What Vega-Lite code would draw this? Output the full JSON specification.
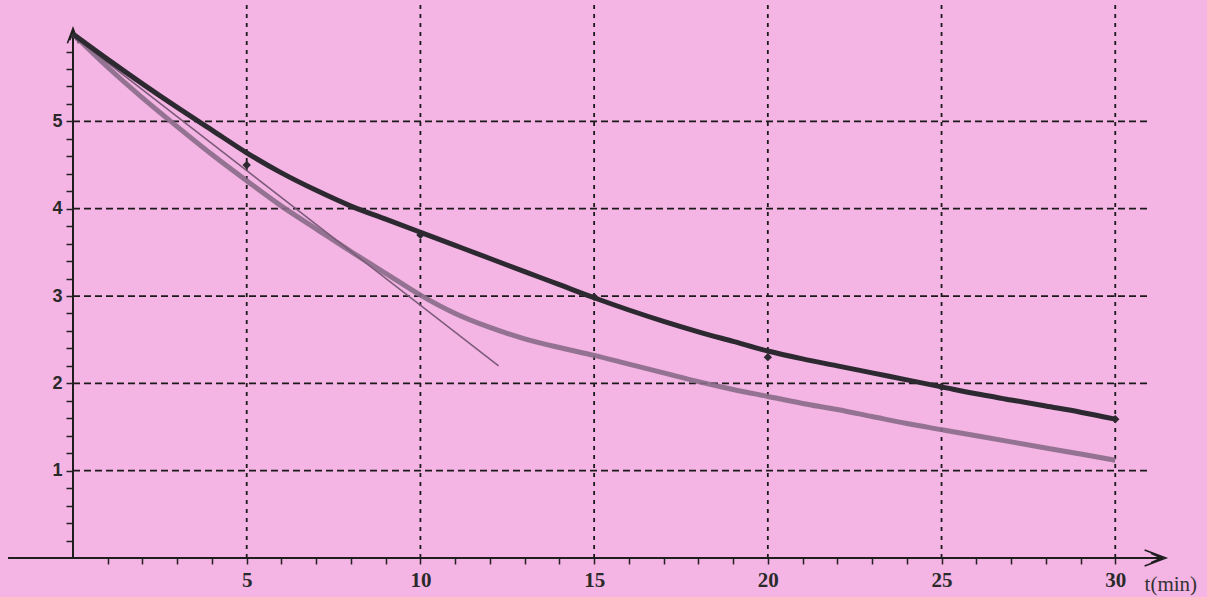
{
  "$schema": "https://vega.github.io/schema/vega-lite/v6.json",
  "width": 1077,
  "height": 558,
  "autosize": {"type": "none"},
  "padding": {"left": 73, "top": 0, "right": 57, "bottom": 39},
  "background": "#f4b4e4",
  "config": {
    "view": {"stroke": null},
    "axis": {"labelOverlap": false, "labelFlush": false, "labelBound": false, "domain": false, "grid": false, "tickColor": "#222222", "tickWidth": 1.5, "labelColor": "#2a2a2a"}
  },
  "datasets": {
    "hgrid": [{"v": 1}, {"v": 2}, {"v": 3}, {"v": 4}, {"v": 5}],
    "vgrid": [{"t": 5}, {"t": 10}, {"t": 15}, {"t": 20}, {"t": 25}, {"t": 30}],
    "dark": [
      {"t": 0, "v": 6.0}, {"t": 1, "v": 5.71}, {"t": 2, "v": 5.43}, {"t": 3, "v": 5.16}, {"t": 4, "v": 4.9},
      {"t": 5, "v": 4.64}, {"t": 6, "v": 4.41}, {"t": 7, "v": 4.21}, {"t": 8, "v": 4.03}, {"t": 9, "v": 3.88},
      {"t": 10, "v": 3.73}, {"t": 11, "v": 3.58}, {"t": 12, "v": 3.43}, {"t": 13, "v": 3.28}, {"t": 14, "v": 3.13},
      {"t": 15, "v": 2.98}, {"t": 16, "v": 2.84}, {"t": 17, "v": 2.71}, {"t": 18, "v": 2.59}, {"t": 19, "v": 2.48},
      {"t": 20, "v": 2.37}, {"t": 21, "v": 2.28}, {"t": 22, "v": 2.2}, {"t": 23, "v": 2.12}, {"t": 24, "v": 2.04},
      {"t": 25, "v": 1.96}, {"t": 26, "v": 1.88}, {"t": 27, "v": 1.81}, {"t": 28, "v": 1.74}, {"t": 29, "v": 1.67},
      {"t": 30, "v": 1.59}
    ],
    "light": [
      {"t": 0, "v": 6.0}, {"t": 1, "v": 5.62}, {"t": 2, "v": 5.27}, {"t": 3, "v": 4.94}, {"t": 4, "v": 4.62},
      {"t": 5, "v": 4.32}, {"t": 6, "v": 4.03}, {"t": 7, "v": 3.77}, {"t": 8, "v": 3.51}, {"t": 9, "v": 3.26},
      {"t": 10, "v": 3.01}, {"t": 11, "v": 2.8}, {"t": 12, "v": 2.64}, {"t": 13, "v": 2.51}, {"t": 14, "v": 2.41},
      {"t": 15, "v": 2.32}, {"t": 16, "v": 2.22}, {"t": 17, "v": 2.12}, {"t": 18, "v": 2.02}, {"t": 19, "v": 1.93},
      {"t": 20, "v": 1.85}, {"t": 21, "v": 1.77}, {"t": 22, "v": 1.7}, {"t": 23, "v": 1.62}, {"t": 24, "v": 1.54},
      {"t": 25, "v": 1.47}, {"t": 26, "v": 1.4}, {"t": 27, "v": 1.33}, {"t": 28, "v": 1.26}, {"t": 29, "v": 1.19},
      {"t": 30, "v": 1.12}
    ],
    "tangent": [{"t": 0, "v": 5.98}, {"t": 12.25, "v": 2.2}],
    "markers": [
      {"t": 5, "v": 4.5}, {"t": 10, "v": 3.7}, {"t": 15, "v": 2.99}, {"t": 20, "v": 2.3}, {"t": 25, "v": 1.96}, {"t": 30, "v": 1.59}
    ],
    "xaxisline": [{"a": -1.87, "b": 31.3}],
    "yaxisline": [{"a": 0, "b": 6.05}],
    "xarrow": [{"t": 31.15, "v": 0}],
    "yarrow": [{"t": 0, "v": 5.98}],
    "labels": [{"t": 31.6, "v": -0.31, "text": "t(min)"}]
  },
  "layer": [
    {
      "data": {"name": "hgrid"},
      "mark": {"type": "rule", "color": "#1a1a1a", "strokeWidth": 1.8, "strokeDash": [7, 4]},
      "encoding": {
        "y": {"field": "v", "type": "quantitative", "title": null, "scale": {"domain": [0, 6.39], "nice": false, "zero": false},
          "axis": {
            "values": [0.2, 0.4, 0.6, 0.8, 1, 1.2, 1.4, 1.6, 1.8, 2, 2.2, 2.4, 2.6, 2.8, 3, 3.2, 3.4, 3.6, 3.8, 4, 4.2, 4.4, 4.6, 4.8, 5, 5.2, 5.4, 5.6, 5.8],
            "tickCount": 200,
            "labelExpr": "abs(datum.value - round(datum.value)) < 0.01 ? format(datum.value, 'd') : ''",
            "domain": false, "grid": false, "title": null,
            "tickSize": 7, "tickWidth": 1.5, "tickColor": "#222222",
            "labelFont": "Liberation Sans", "labelFontWeight": "bold", "labelFontSize": 18, "labelColor": "#2a2a2a",
            "labelPadding": 4, "labelOverlap": false, "labelFlush": false
          }},
        "x": {"datum": 0, "type": "quantitative", "title": null, "scale": {"domain": [0, 31], "nice": false, "zero": false},
          "axis": {
            "values": [1, 2, 3, 4, 5, 6, 7, 8, 9, 10, 11, 12, 13, 14, 15, 16, 17, 18, 19, 20, 21, 22, 23, 24, 25, 26, 27, 28, 29, 30],
            "tickCount": 200,
            "labelExpr": "datum.value % 5 === 0 ? format(datum.value, 'd') : ''",
            "domain": false, "grid": false, "title": null,
            "tickSize": 6, "tickWidth": 1.5, "tickColor": "#222222",
            "labelFont": "Liberation Serif", "labelFontWeight": "bold", "labelFontSize": 21, "labelColor": "#2a2a2a",
            "labelPadding": 5, "labelOverlap": false, "labelFlush": false
          }},
        "x2": {"datum": 31}
      }
    },
    {
      "data": {"name": "vgrid"},
      "mark": {"type": "rule", "color": "#1a1a1a", "strokeWidth": 1.8, "strokeDash": [4, 5]},
      "encoding": {
        "x": {"field": "t", "type": "quantitative", "title": null, "scale": {"domain": [0, 31], "nice": false, "zero": false}},
        "y": {"datum": 0, "type": "quantitative", "title": null, "scale": {"domain": [0, 6.39], "nice": false, "zero": false}},
        "y2": {"datum": 6.39}
      }
    },
    {
      "data": {"name": "xaxisline"},
      "mark": {"type": "rule", "color": "#1e1e1e", "strokeWidth": 2},
      "encoding": {
        "x": {"field": "a", "type": "quantitative", "title": null, "scale": {"domain": [0, 31], "nice": false, "zero": false}},
        "x2": {"field": "b"},
        "y": {"datum": 0, "type": "quantitative", "title": null, "scale": {"domain": [0, 6.39], "nice": false, "zero": false}}
      }
    },
    {
      "data": {"name": "yaxisline"},
      "mark": {"type": "rule", "color": "#1e1e1e", "strokeWidth": 2},
      "encoding": {
        "y": {"field": "a", "type": "quantitative", "title": null, "scale": {"domain": [0, 6.39], "nice": false, "zero": false}},
        "y2": {"field": "b"},
        "x": {"datum": 0, "type": "quantitative", "title": null, "scale": {"domain": [0, 31], "nice": false, "zero": false}}
      }
    },
    {
      "data": {"name": "xarrow"},
      "mark": {"type": "point", "shape": "M -1 -0.75 L 1 0 L -1 0.75 M -0.4 -0.45 L 0.6 0 L -0.4 0.45", "filled": false, "color": "#1e1e1e", "strokeWidth": 1.6, "size": 450, "opacity": 1},
      "encoding": {
        "x": {"field": "t", "type": "quantitative", "title": null, "scale": {"domain": [0, 31], "nice": false, "zero": false}},
        "y": {"field": "v", "type": "quantitative", "title": null, "scale": {"domain": [0, 6.39], "nice": false, "zero": false}}
      }
    },
    {
      "data": {"name": "yarrow"},
      "mark": {"type": "point", "shape": "M -0.75 1 L 0 -1 L 0.75 1 M -0.45 0.6 L 0 -0.4 L 0.45 0.6", "filled": false, "color": "#1e1e1e", "strokeWidth": 1.6, "size": 220, "opacity": 1},
      "encoding": {
        "x": {"field": "t", "type": "quantitative", "title": null, "scale": {"domain": [0, 31], "nice": false, "zero": false}},
        "y": {"field": "v", "type": "quantitative", "title": null, "scale": {"domain": [0, 6.39], "nice": false, "zero": false}}
      }
    },
    {
      "data": {"name": "light"},
      "mark": {"type": "line", "color": "#8a6c88", "strokeWidth": 5, "interpolate": "catmull-rom", "opacity": 0.9},
      "encoding": {
        "x": {"field": "t", "type": "quantitative", "title": null, "scale": {"domain": [0, 31], "nice": false, "zero": false}},
        "y": {"field": "v", "type": "quantitative", "title": null, "scale": {"domain": [0, 6.39], "nice": false, "zero": false}}
      }
    },
    {
      "data": {"name": "tangent"},
      "mark": {"type": "line", "color": "#7a5a78", "strokeWidth": 1.5},
      "encoding": {
        "x": {"field": "t", "type": "quantitative", "title": null, "scale": {"domain": [0, 31], "nice": false, "zero": false}},
        "y": {"field": "v", "type": "quantitative", "title": null, "scale": {"domain": [0, 6.39], "nice": false, "zero": false}}
      }
    },
    {
      "data": {"name": "dark"},
      "mark": {"type": "line", "color": "#2d2931", "strokeWidth": 5, "interpolate": "catmull-rom"},
      "encoding": {
        "x": {"field": "t", "type": "quantitative", "title": null, "scale": {"domain": [0, 31], "nice": false, "zero": false}},
        "y": {"field": "v", "type": "quantitative", "title": null, "scale": {"domain": [0, 6.39], "nice": false, "zero": false}}
      }
    },
    {
      "data": {"name": "markers"},
      "mark": {"type": "point", "shape": "diamond", "filled": true, "color": "#2d2931", "size": 70, "opacity": 1},
      "encoding": {
        "x": {"field": "t", "type": "quantitative", "title": null, "scale": {"domain": [0, 31], "nice": false, "zero": false}},
        "y": {"field": "v", "type": "quantitative", "title": null, "scale": {"domain": [0, 6.39], "nice": false, "zero": false}}
      }
    },
    {
      "data": {"name": "labels"},
      "mark": {"type": "text", "font": "Liberation Serif", "fontSize": 21, "color": "#333333", "align": "center", "baseline": "middle"},
      "encoding": {
        "x": {"field": "t", "type": "quantitative", "title": null, "scale": {"domain": [0, 31], "nice": false, "zero": false}},
        "y": {"field": "v", "type": "quantitative", "title": null, "scale": {"domain": [0, 6.39], "nice": false, "zero": false}},
        "text": {"field": "text"}
      }
    }
  ]
}
